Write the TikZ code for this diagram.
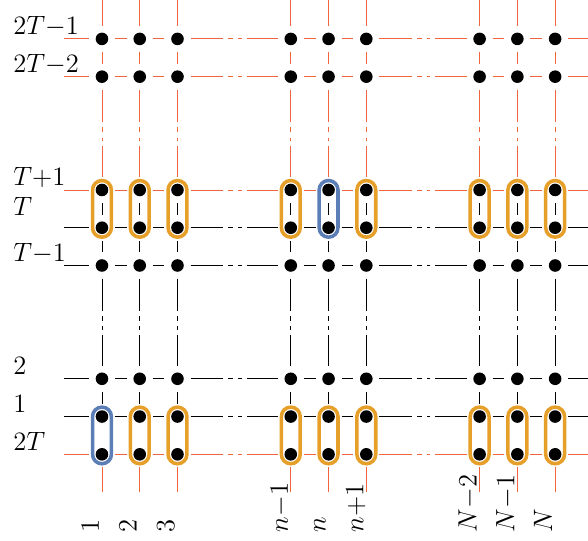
\documentclass[12pt,tikz,border=0pt]{standalone}
\usepackage{amsmath}
\usetikzlibrary{fit}
\definecolor{sheetred}{RGB}{240,100,62}
\definecolor{pairorange}{RGB}{230,159,40}
\definecolor{pairblue}{RGB}{92,126,182}
\tikzset{
  site/.style={circle, inner sep=0pt, minimum size=0.4cm,
    path picture={\fill (path picture bounding box.center) circle (0.1cm);}},
  gapbond/.style={dash pattern=on 0.52cm off 0.08cm on 0.08cm off 0.08cm on 0.05cm off 0.08cm on 1cm},
  pair/.style={draw, ultra thick, rounded corners=0.15cm, inner sep=0.15cm},
  rowlab/.style={anchor=base west, inner sep=0pt},
  collab/.style={rotate=90, anchor=base west, inner sep=0pt}
}

\begin{document}
\begin{tikzpicture}[x=0.6cm, y=0.6cm]
        \useasboundingbox (-2.70,-2.28) rectangle (12.87,12.03);
        %nodes
        \foreach \i/\x in {1/0,2/1,3/2,4/5,5/6,6/7,7/10,8/11,9/12}{
          \foreach \j/\y in {1/0,2/1,3/2,4/5,5/6,6/7,7/10,8/11}{
            \node[site] (s-\i-\j) at (\x,\y) {};
          }
          \coordinate (bot-\i) at (\x,-1);
          \coordinate (top-\i) at (\x,12.1);
        }
        \foreach \j/\y in {1/0,2/1,3/2,4/5,5/6,6/7,7/10,8/11}{
          \coordinate (left-\j) at (-1,\y);
          \coordinate (right-\j) at (13,\y);
        }
        %row labels
        \foreach \j/\y/\lab in {1/0.11/2T,2/1.11/1,3/2.11/2,4/5.11/T{-}1,5/6.32/T,6/7.11/T{+}1,7/10.11/2T{-}2,8/11.11/2T{-}1}
          \node[rowlab] (rl-\j) at (-2.36,\y) {$\lab$};
        %column labels
        \foreach \i/\x/\lab in {1/0/1,2/1/2,3/2/3,4/5/n{-}1,5/6/n,6/7/n{+}1,7/10/N{-}2,8/11/N{-}1,9/12/N}
          \node[collab] (cl-\i) at (\x-0.08,-2.07) {$\lab$};
        %horizontal edges
        \foreach \j/\col in {1/sheetred,2/black,3/black,4/black,5/black,6/sheetred,7/sheetred,8/sheetred}{
          \path [draw,\col] (left-\j) -- (s-1-\j) -- (s-2-\j) -- (s-3-\j);
          \path [draw,\col,gapbond] (s-3-\j) -- (s-4-\j);
          \path [draw,\col] (s-4-\j) -- (s-5-\j) -- (s-6-\j);
          \path [draw,\col,gapbond] (s-6-\j) -- (s-7-\j);
          \path [draw,\col] (s-7-\j) -- (s-8-\j) -- (s-9-\j) -- (right-\j);
        }
        %vertical edges
        \foreach \i in {1,...,9}{
          \path [draw,sheetred] (bot-\i) -- (s-\i-1);
          \path [draw] (s-\i-2) -- (s-\i-3);
          \path [draw,gapbond] (s-\i-4) -- (s-\i-3);
          \path [draw] (s-\i-4) -- (s-\i-5) -- (s-\i-6);
          \path [draw,sheetred,gapbond] (s-\i-7) -- (s-\i-6);
          \path [draw,sheetred] (s-\i-7) -- (s-\i-8) -- (top-\i);
        }
        %pairs
        \foreach \i/\tcol/\bcol in {1/pairorange/pairblue,2/pairorange/pairorange,3/pairorange/pairorange,4/pairorange/pairorange,5/pairblue/pairorange,6/pairorange/pairorange,7/pairorange/pairorange,8/pairorange/pairorange,9/pairorange/pairorange}{
          \node[pair,\tcol,fit=(s-\i-5.center)(s-\i-6.center)] (tp-\i) {};
          \node[pair,\bcol,fit=(s-\i-1.center)(s-\i-2.center)] (bp-\i) {};
        }
      \end{tikzpicture}
\end{document}
